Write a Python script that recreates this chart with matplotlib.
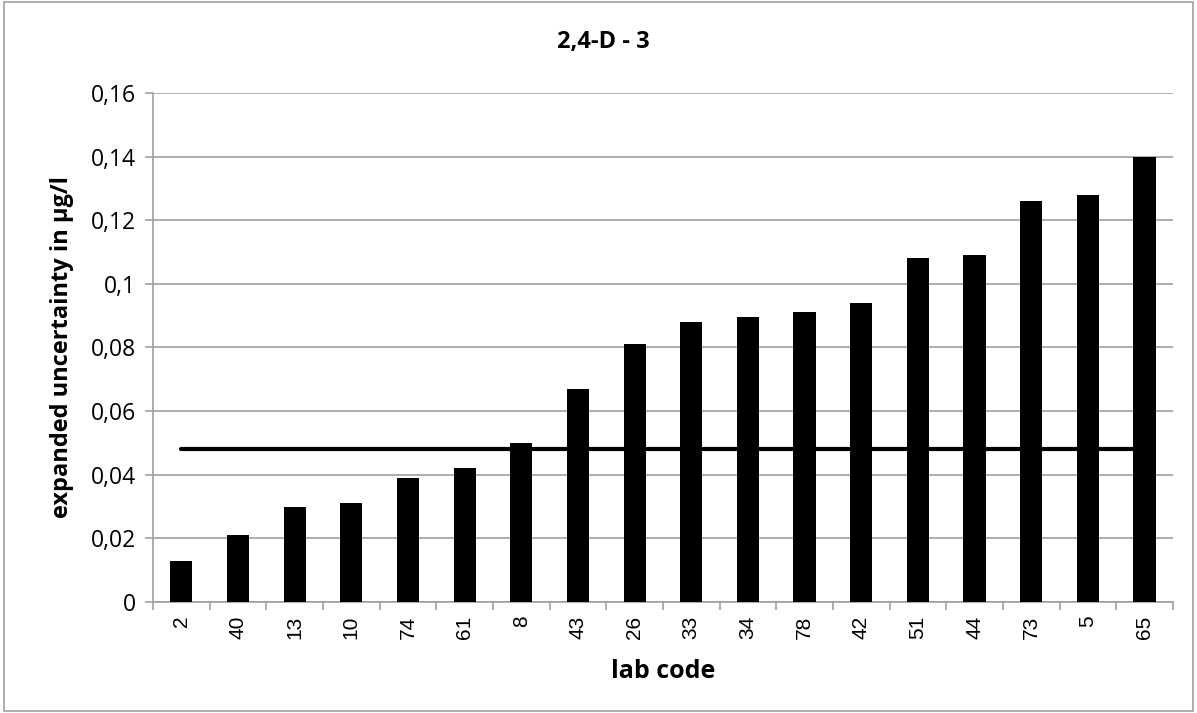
import matplotlib
matplotlib.use("Agg")
import matplotlib.pyplot as plt
from matplotlib.patches import Rectangle
from matplotlib.ticker import FuncFormatter, FixedLocator

plt.rcParams["font.family"] = ["Open Sans", "DejaVu Sans"]

lab_codes = ["2", "40", "13", "10", "74", "61", "8", "43", "26", "33",
             "34", "78", "42", "51", "44", "73", "5", "65"]
uncertainty = [0.013, 0.021, 0.030, 0.031, 0.039, 0.042, 0.050, 0.067, 0.081,
               0.088, 0.0895, 0.091, 0.094, 0.108, 0.109, 0.126, 0.128, 0.140]
reference_value = 0.048

fig = plt.figure(figsize=(11.97, 7.13), dpi=100)
ax = fig.add_axes([0.1278, 0.1557, 0.852, 0.714])

x = list(range(len(lab_codes)))
ax.bar(x, uncertainty, width=0.39, color="black", zorder=3)
ax.plot([x[0], x[-1]], [reference_value, reference_value], color="black",
        lw=3, solid_capstyle="round", zorder=2)

ax.set_xlim(-0.5, len(lab_codes) - 0.5)
ax.set_ylim(0, 0.16)
ax.set_yticks([i * 0.02 for i in range(9)])


def comma_fmt(v, pos):
    s = f"{v:.2f}".rstrip("0").rstrip(".")
    return s.replace(".", ",")


ax.yaxis.set_major_formatter(FuncFormatter(comma_fmt))
ax.grid(axis="y", color="#a0a0a0", lw=1.2, zorder=0)

ax.set_xticks(x)
ax.set_xticklabels(lab_codes, rotation=90, family="Liberation Sans", fontsize=15)
ax.tick_params(axis="x", length=0, pad=10)
ax.xaxis.set_minor_locator(FixedLocator([i - 0.5 for i in range(len(lab_codes) + 1)]))
ax.tick_params(axis="x", which="minor", length=6, color="#a0a0a0", width=1.2)
ax.tick_params(axis="y", length=6, color="#a0a0a0", width=1.2, labelsize=16.5, pad=6)

for side in ["top", "right"]:
    ax.spines[side].set_visible(False)
for side in ["left", "bottom"]:
    ax.spines[side].set_color("#a0a0a0")
    ax.spines[side].set_linewidth(1.2)

ax.set_xlabel("lab code", fontsize=18, fontweight="bold", labelpad=14)
ax.set_ylabel("expanded uncertainty in µg/l", fontsize=17, fontweight="bold", labelpad=12)
fig.text(0.504, 0.941, "2,4-D - 3", ha="center", va="center",
         fontsize=17, fontweight="bold")

fig.patches.append(Rectangle((0.003, 0.003), 0.994, 0.994, transform=fig.transFigure,
                             fill=False, edgecolor="#a0a0a0", lw=1.2))

fig.savefig("out.png", dpi=100)
